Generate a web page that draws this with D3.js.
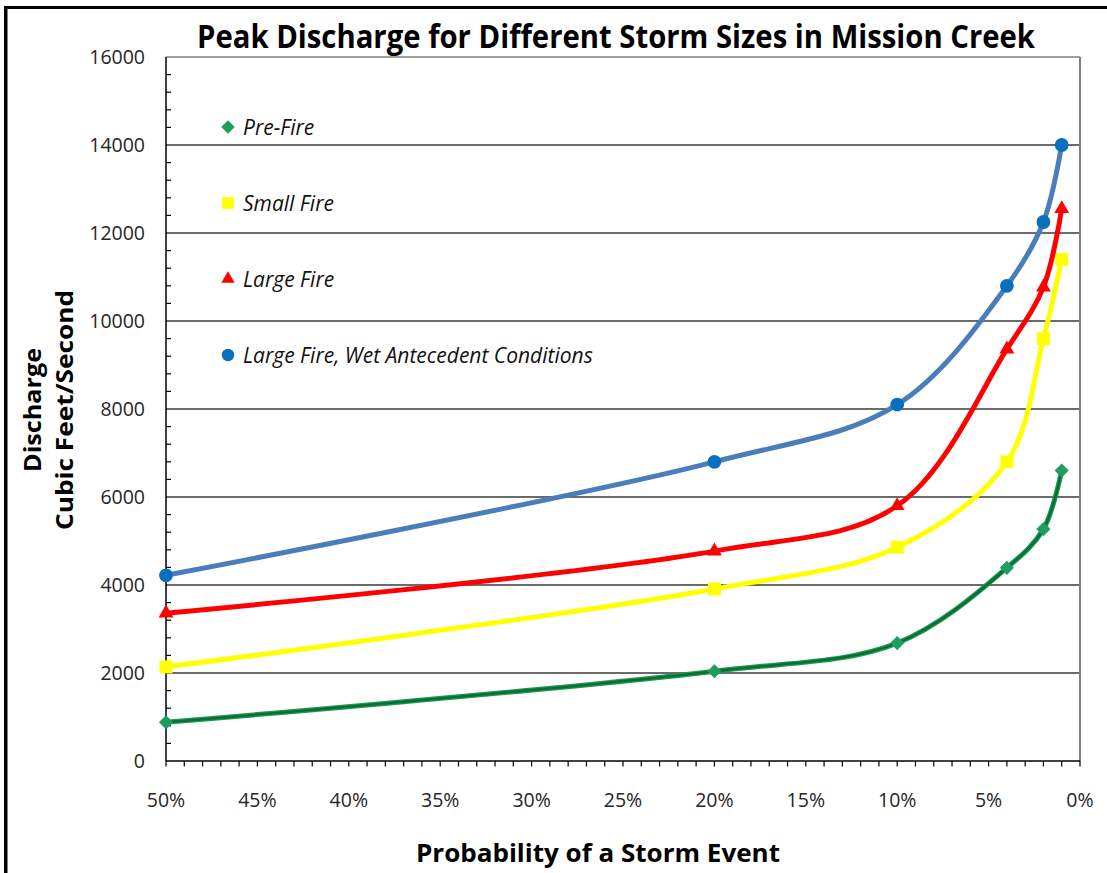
<!DOCTYPE html>
<html>
<head>
<meta charset="utf-8">
<script src="https://cdn.jsdelivr.net/npm/d3@7/dist/d3.min.js"></script>
<style>
  html, body { margin: 0; padding: 0; background: #fff; }
  svg { display: block; }
</style>
</head>
<body>
<svg id="chart" width="1107" height="873"></svg>
<script>
// ---- data ----
const probabilities = [50, 20, 10, 4, 2, 1];           // % chance of storm event
const preFire       = [880, 2040, 2680, 4390, 5270, 6600];
const smallFire     = [2140, 3910, 4860, 6800, 9600, 11400];
const largeFire     = [3360, 4770, 5800, 9360, 10770, 12550];
const largeFireWet  = [4220, 6800, 8100, 10800, 12250, 14000];

const xTickValues = [50, 45, 40, 35, 30, 25, 20, 15, 10, 5, 0];
const yTickValues = [0, 2000, 4000, 6000, 8000, 10000, 12000, 14000, 16000];
const seriesNames = ["Pre-Fire", "Small Fire", "Large Fire", "Large Fire, Wet Antecedent Conditions"];

const title = "Peak Discharge for Different Storm Sizes in Mission Creek";
const xTitle = "Probability of a Storm Event";
const yTitle1 = "Discharge";
const yTitle2 = "Cubic Feet/Second";

// ---- layout ----
const svg = d3.select("#chart");
const L = 166, R = 1080, T = 57, B = 761;
const x = d3.scaleLinear().domain([50, 0]).range([L, R]);
const y = d3.scaleLinear().domain([0, 16000]).range([B, T]);
const FONT = "'Open Sans', 'DejaVu Sans', sans-serif";

// outer frame (left and top thick black lines)
svg.append("rect").attr("x", 4).attr("y", 6).attr("width", 1103).attr("height", 3).attr("fill", "#000");
svg.append("rect").attr("x", 4).attr("y", 6).attr("width", 3.5).attr("height", 867).attr("fill", "#000");

// gridlines
svg.append("g").selectAll("line").data(yTickValues.filter(d => d > 0)).join("line")
  .attr("x1", L).attr("x2", R)
  .attr("y1", d => y(d)).attr("y2", d => y(d))
  .attr("stroke", d => d === 16000 ? "#808080" : "#3a3a3a")
  .attr("stroke-width", 1.4);

// right plot border
svg.append("line").attr("x1", R).attr("x2", R).attr("y1", T).attr("y2", B)
  .attr("stroke", "#808080").attr("stroke-width", 2);

// y minor ticks (inside)
const yMinor = d3.range(0, 16001, 400).filter(d => d % 2000 !== 0);
svg.append("g").selectAll("line").data(yMinor).join("line")
  .attr("x1", L).attr("x2", L + 5)
  .attr("y1", d => y(d)).attr("y2", d => y(d))
  .attr("stroke", "#000").attr("stroke-width", 1.2);

// x ticks every 1% (outside)
const xMinor = d3.range(0, 51, 1);
svg.append("g").selectAll("line").data(xMinor).join("line")
  .attr("x1", d => x(d)).attr("x2", d => x(d))
  .attr("y1", B).attr("y2", B + 5.5)
  .attr("stroke", "#000").attr("stroke-width", 1.2);

// axis lines
svg.append("line").attr("x1", L).attr("x2", L).attr("y1", T).attr("y2", B)
  .attr("stroke", "#000").attr("stroke-width", 1.5);
svg.append("line").attr("x1", L).attr("x2", R).attr("y1", B).attr("y2", B)
  .attr("stroke", "#000").attr("stroke-width", 1.5);

// tick labels
svg.append("g").selectAll("text").data(yTickValues).join("text")
  .attr("x", 145).attr("y", d => y(d) + 7)
  .attr("text-anchor", "end")
  .attr("font-family", FONT).attr("font-size", 19.5).attr("fill", "#262626")
  .text(d => d);
svg.append("g").selectAll("text").data(xTickValues).join("text")
  .attr("x", d => x(d)).attr("y", 807)
  .attr("text-anchor", "middle")
  .attr("font-family", FONT).attr("font-size", 19.5).attr("fill", "#262626")
  .text(d => d + "%");

// titles
svg.append("text").attr("x", 616).attr("y", 48).attr("text-anchor", "middle")
  .attr("font-family", FONT).attr("font-weight", "bold").attr("font-size", 32)
  .attr("textLength", 838).attr("lengthAdjust", "spacingAndGlyphs")
  .text(title);
svg.append("text").attr("x", 598).attr("y", 862).attr("text-anchor", "middle")
  .attr("font-family", FONT).attr("font-weight", "bold").attr("font-size", 25)
  .attr("textLength", 364).attr("lengthAdjust", "spacingAndGlyphs")
  .text(xTitle);
svg.append("text").attr("transform", "translate(41,410) rotate(-90)").attr("text-anchor", "middle")
  .attr("font-family", FONT).attr("font-weight", "bold").attr("font-size", 24)
  .attr("textLength", 124).attr("lengthAdjust", "spacingAndGlyphs")
  .text(yTitle1);
svg.append("text").attr("transform", "translate(73,410) rotate(-90)").attr("text-anchor", "middle")
  .attr("font-family", FONT).attr("font-weight", "bold").attr("font-size", 24)
  .attr("textLength", 240).attr("lengthAdjust", "spacingAndGlyphs")
  .text(yTitle2);

// ---- series ----
const series = [
  { name: seriesNames[0], values: preFire,      color: "#10893f", marker: "#1f9d5c", sym: "diamond" },
  { name: seriesNames[1], values: smallFire,    color: "#ffff00", marker: "#ffff00", sym: "square" },
  { name: seriesNames[2], values: largeFire,    color: "#ff0000", marker: "#ff0000", sym: "triangle" },
  { name: seriesNames[3], values: largeFireWet, color: "#4a7ebb", marker: "#0a6fbe", sym: "circle" }
];

const line = d3.line().x(d => x(d[0])).y(d => y(d[1])).curve(d3.curveCatmullRom.alpha(0.5));

function symbolPath(sym, scale) {
  if (sym === "diamond") return d3.symbol(d3.symbolSquare, 100 * scale * scale)();
  if (sym === "square") return d3.symbol(d3.symbolSquare, 169 * scale * scale)();
  if (sym === "triangle") return d3.symbol(d3.symbolTriangle, 95 * scale * scale)();
  return d3.symbol(d3.symbolCircle, 150 * scale * scale)();
}
function symTransform(sym, cx, cy) {
  return sym === "diamond" ? `translate(${cx},${cy}) rotate(45)` : `translate(${cx},${cy})`;
}

series.forEach(s => {
  const pts = probabilities.map((p, i) => [p, s.values[i]]);
  const g = svg.append("g");
  if (s.sym === "diamond") {
    g.append("path").attr("d", line(pts)).attr("fill", "none")
      .attr("stroke", "#1a9a50").attr("stroke-width", 5).attr("stroke-linejoin", "round");
    g.append("path").attr("d", line(pts)).attr("fill", "none")
      .attr("stroke", "#0b6e35").attr("stroke-width", 2.5).attr("stroke-linejoin", "round");
  } else {
    g.append("path").attr("d", line(pts)).attr("fill", "none")
      .attr("stroke", s.color).attr("stroke-width", 5).attr("stroke-linejoin", "round");
  }
  g.selectAll("path.m").data(pts).join("path").attr("class", "m")
    .attr("d", symbolPath(s.sym, 1))
    .attr("transform", d => symTransform(s.sym, x(d[0]), y(d[1])))
    .attr("fill", s.marker);
});

// ---- legend ----
const legendY = [127, 203, 279, 355];
series.forEach((s, i) => {
  svg.append("path").attr("d", symbolPath(s.sym, s.sym === "diamond" ? 0.95 : 0.9))
    .attr("transform", symTransform(s.sym, 228, legendY[i]))
    .attr("fill", s.marker);
  svg.append("text").attr("x", 243).attr("y", legendY[i] + 7.5)
    .attr("font-family", FONT).attr("font-style", "italic").attr("font-size", 21)
    .attr("fill", "#111")
    .text(s.name);
});
</script>
</body>
</html>
